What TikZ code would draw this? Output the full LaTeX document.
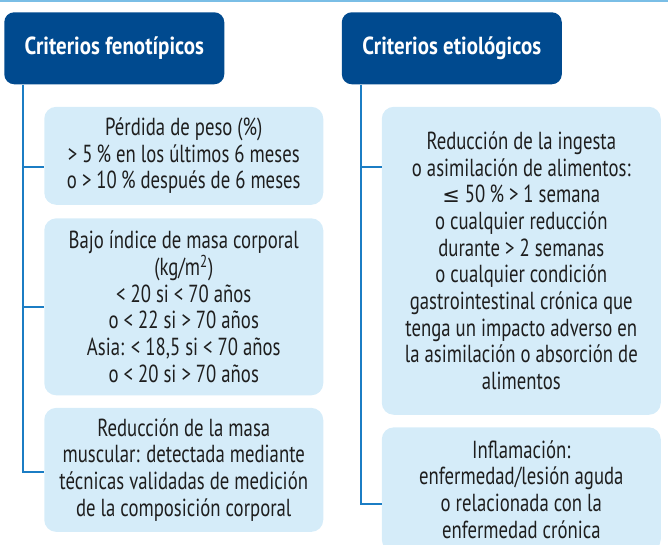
\documentclass[tikz,border=0pt]{standalone}
\usepackage{fontspec}
\setmainfont{PT Sans}[FakeStretch=0.76]
\newfontfamily\hdrfont{PT Sans}[FakeStretch=0.85]
\newfontfamily\symfont{DejaVu Sans}[Scale=0.85]
\usetikzlibrary{positioning}
\definecolor{hdrblue}{RGB}{0, 74, 143}
\definecolor{boxblue}{RGB}{213, 236, 249}
\definecolor{lineblue}{RGB}{27, 125, 196}
\definecolor{rulelight}{RGB}{122, 190, 230}
\definecolor{txtgray}{RGB}{30, 30, 30}

\begin{document}
\begin{tikzpicture}[
    hdr/.style={fill=hdrblue, rounded corners=7.5pt, minimum width=165pt, minimum height=54pt,
                inner sep=0pt, text=white, font=\hdrfont\bfseries\fontsize{18.5}{20}\selectfont},
    crit/.style={fill=boxblue, rounded corners=9pt, minimum width=209.25pt, inner sep=0pt,
                 align=center, text=txtgray, font=\fontsize{18.5}{20}\selectfont},
    trunk/.style={draw=lineblue, line width=1.5pt}
]
    \useasboundingbox (0,0) rectangle (501pt,-408pt);
    \clip (0,0) rectangle (501pt,-408pt);
    \draw[rulelight, line width=1.2pt] (0,-0.6pt) -- (501pt,-0.6pt);

    % column headers
    \node[hdr, anchor=north west] (fenot) at (3pt,-9pt) {Criterios fenotípicos};
    \node[hdr, right=87.75pt of fenot] (etiol) {Criterios etiológicos};

    % phenotypic criteria
    \node[crit, minimum height=73.5pt, anchor=north west] (peso)
        at ([xshift=30pt, yshift=-16.5pt]fenot.south west)
        {Pérdida de peso (\%)\\> 5\,\% en los últimos 6 meses\\o > 10\,\% después de 6 meses};
    \node[crit, minimum height=132.75pt, below=9.75pt of peso] (imc)
        {Bajo índice de masa corporal\\(kg/m\textsuperscript{2})\\< 20 si < 70 años\\o < 22 si > 70 años\\Asia: < 18,5 si < 70 años\\o < 20 si > 70 años};
    \node[crit, minimum height=93pt, below=9pt of imc] (masa)
        {Reducción de la masa\\muscular: detectada mediante\\técnicas validadas de medición\\de la composición corporal};

    % etiologic criteria
    \node[crit, minimum height=231pt, anchor=north west] (ingesta)
        at ([xshift=30pt, yshift=-16.5pt]etiol.south west)
        {Reducción de la ingesta\\o asimilación de alimentos:\\{\symfont ≤} 50\,\% > 1 semana\\o cualquier reducción\\durante > 2 semanas\\o cualquier condición\\gastrointestinal crónica que\\tenga un impacto adverso en\\la asimilación o absorción de\\alimentos};
    \node[crit, minimum height=93pt, below=9pt of ingesta] (inflam)
        {Inflamación:\\enfermedad/lesión aguda\\o relacionada con la\\enfermedad crónica};

    % trunks and branches
    \coordinate (tF) at ([xshift=14.25pt]fenot.south west);
    \coordinate (tE) at ([xshift=14.25pt]etiol.south west);
    \coordinate (bPeso) at ([yshift=-45pt]peso.north west);
    \coordinate (bImc) at ([yshift=-66.75pt]imc.north west);
    \coordinate (bMasa) at ([yshift=-48pt]masa.north west);
    \coordinate (bIngesta) at ([yshift=-45pt]ingesta.north west);
    \coordinate (bInflam) at ([yshift=-57.75pt]inflam.north west);

    \draw[trunk] (tF) |- (bMasa);
    \draw[trunk] (tF |- bPeso) -- (bPeso);
    \draw[trunk] (tF |- bImc) -- (bImc);
    \draw[trunk] (tE) |- (bInflam);
    \draw[trunk] (tE |- bIngesta) -- (bIngesta);
\end{tikzpicture}
\end{document}
